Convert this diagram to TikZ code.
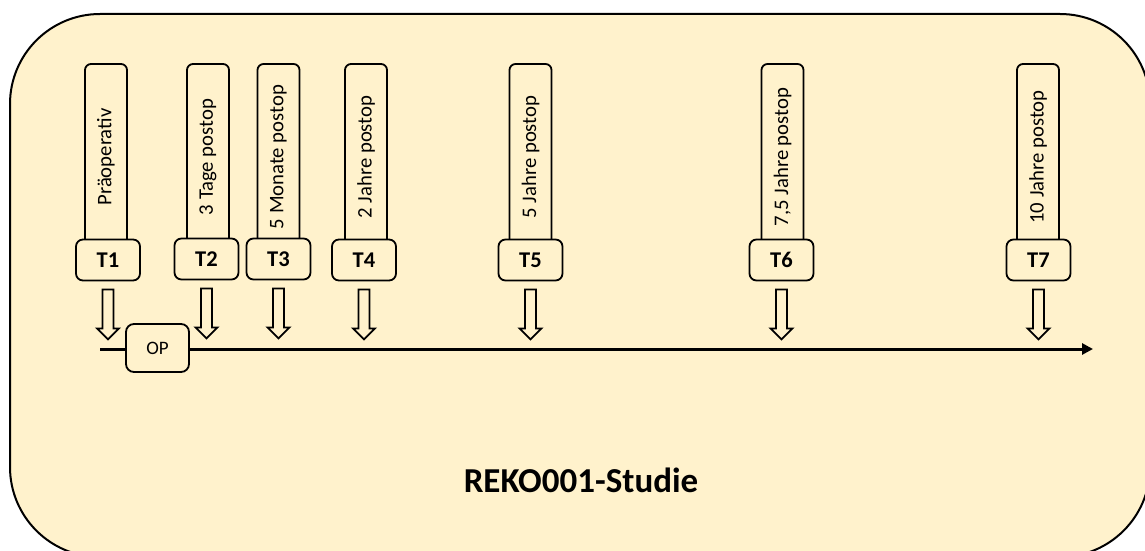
\documentclass[tikz,border=0pt]{standalone}
\usepackage{fontspec}
\setmainfont{Carlito}
\usetikzlibrary{arrows.meta,calc}
\definecolor{bgfill}{HTML}{FFF2CC}
\tikzset{
  x=1pt, y=-1pt,
  outer/.style={draw=black, line width=2pt, fill=bgfill, rounded corners=90pt},
  tallbox/.style={draw=black, line width=1.8pt, fill=bgfill, rounded corners=6pt,
    rotate=90, minimum width=186pt, minimum height=42pt, inner sep=0pt,
    font=\fontsize{20.7}{24}\selectfont},
  tbox/.style={draw=black, line width=1.8pt, fill=bgfill, rounded corners=7pt,
    minimum width=64pt, minimum height=41pt, inner sep=0pt,
    font=\fontsize{22.5}{26}\selectfont\bfseries},
  opbox/.style={draw=black, line width=1.8pt, fill=bgfill, rounded corners=8pt,
    minimum width=63pt, minimum height=48pt, inner sep=0pt,
    font=\fontsize{19}{22}\selectfont},
  blockarrow/.style={draw=black, line width=1.8pt, fill=bgfill, line join=miter},
  timeline/.style={draw=black, line width=3pt, -{Triangle[length=11pt,width=11pt]}},
  titletext/.style={font=\fontsize{35}{40}\selectfont\bfseries, inner sep=0pt}
}
\begin{document}
\begin{tikzpicture}
\useasboundingbox (0,0) rectangle (1145,551);
\clip (0,0) rectangle (1145,551);
\draw[outer] (10,14) rectangle (1150,557);

% timeline
\coordinate (ls) at (100,349);
\coordinate (le) at (1093,349);
\draw[timeline] (ls) -- (le);
\node[opbox] (op) at (157.5,348) {OP};

% tall label boxes
\node[tallbox] (p1) at (106,157) {Präoperativ};
\node[tallbox] (p2) at (208,157) {3 Tage postop};
\node[tallbox] (p3) at (278.5,157) {5 Monate postop};
\node[tallbox] (p4) at (366,157) {2 Jahre postop};
\node[tallbox] (p5) at (530.5,157) {5 Jahre postop};
\node[tallbox] (p6) at (782.5,157) {7,5 Jahre postop};
\node[tallbox] (p7) at (1038,157) {10 Jahre postop};

% T boxes
\node[tbox] (t1) at (108,260) {T1};
\node[tbox] (t2) at (206.5,259) {T2};
\node[tbox] (t3) at (278.5,259) {T3};
\node[tbox] (t4) at (364,260) {T4};
\node[tbox] (t5) at (530.5,260) {T5};
\node[tbox] (t6) at (781.5,260) {T6};
\node[tbox] (t7) at (1038.5,260) {T7};

% block arrows
\foreach \n in {t1,t2,t3,t4,t5,t6,t7}{
  \draw[blockarrow] ($(\n.south)+(0,-8pt)$) ++(-5.5,0) -- ++(0,39) -- ++(-5.5,0)
    -- ++(11,11) -- ++(11,-11) -- ++(-5.5,0) -- ++(0,-39) -- cycle;
}

\node[titletext, anchor=base] (title) at (581,492) {REKO001-Studie};
\end{tikzpicture}
\end{document}
